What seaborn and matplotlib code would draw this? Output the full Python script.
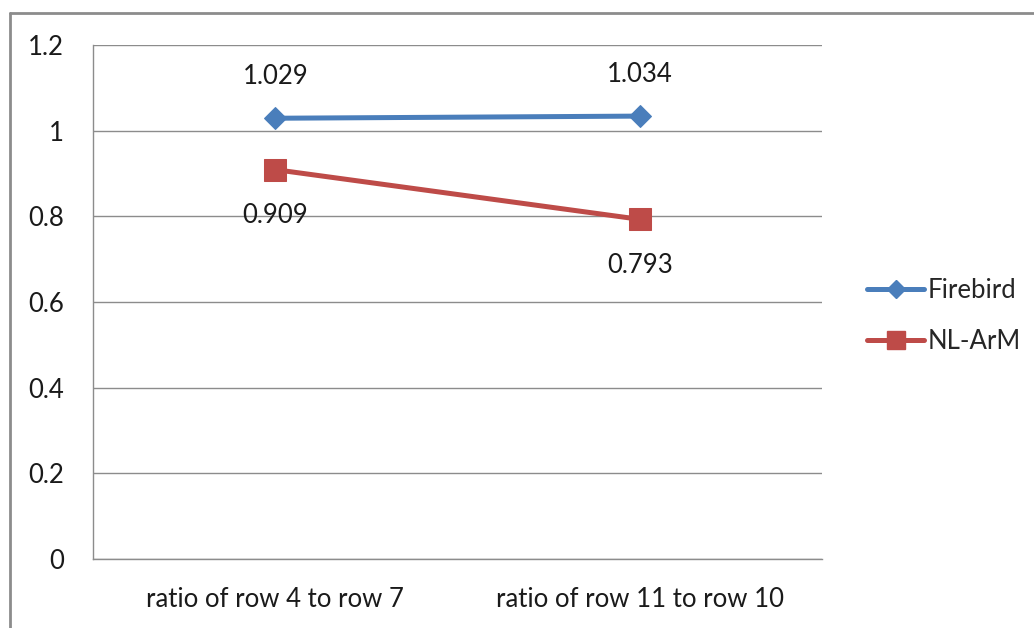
import matplotlib
matplotlib.use("Agg")
import matplotlib.pyplot as plt
import matplotlib.lines as mlines
import seaborn as sns
import pandas as pd

# Ratios per comparison
categories = ["ratio of row 4 to row 7", "ratio of row 11 to row 10"]
firebird = [1.029, 1.034]
nl_arm = [0.909, 0.793]
series_names = ["Firebird", "NL-ArM"]
y_ticks = [0, 0.2, 0.4, 0.6, 0.8, 1.0, 1.2]
y_tick_labels = ["0", "0.2", "0.4", "0.6", "0.8", "1", "1.2"]

sns.set_theme(style="white")
plt.rcParams["font.family"] = ["Lato", "DejaVu Sans"]

BLUE = "#4A7EBB"
RED = "#BE4B48"
GRID = "#8C8C8C"
TEXT = "#1a1a1a"
FS = 18.5

df = pd.DataFrame({
    "category": categories * 2,
    "value": firebird + nl_arm,
    "series": [series_names[0]] * 2 + [series_names[1]] * 2,
})

fig = plt.figure(figsize=(10.34, 6.28), dpi=100)
ax = fig.add_axes([93 / 1034, 1 - 559 / 628, (822 - 93) / 1034, (559 - 45) / 628])

palette = {series_names[0]: BLUE, series_names[1]: RED}
sns.lineplot(data=df, x="category", y="value", hue="series", style="series",
             markers={series_names[0]: "D", series_names[1]: "s"},
             dashes=False, palette=palette, linewidth=3.6, ax=ax,
             legend=False, zorder=3)

# marker sizes per series
for line in ax.lines:
    c = line.get_color()
    if line.get_marker() == "D":
        line.set_markersize(11.5)
    else:
        line.set_markersize(16)
    line.set_markeredgecolor(c)
    line.set_markerfacecolor(c)

# value labels
for i, v in enumerate(firebird):
    ax.annotate(f"{v:.3f}", (i, v), xytext=(0, 30), textcoords="offset points",
                ha="center", va="center", fontsize=FS, color=TEXT)
for i, v in enumerate(nl_arm):
    ax.annotate(f"{v:.3f}", (i, v), xytext=(0, -33), textcoords="offset points",
                ha="center", va="center", fontsize=FS, color=TEXT)

ax.set_xlim(-0.5, 1.5)
ax.set_ylim(0, 1.2)
ax.set_yticks(y_ticks)
ax.set_yticklabels(y_tick_labels, fontsize=FS, color=TEXT)
ax.set_xticks([0, 1])
ax.set_xticklabels(categories, fontsize=FS, color=TEXT)
ax.set_xticks([-0.5, 0.5, 1.5], minor=True)
ax.tick_params(axis="x", which="major", length=0, pad=20)
ax.tick_params(axis="x", which="minor", length=6, width=1, color=GRID, direction="out")
ax.tick_params(axis="y", which="major", length=7, width=1, color=GRID,
               direction="out", pad=14)
ax.set_xlabel("")
ax.set_ylabel("")

ax.grid(axis="y", color=GRID, linewidth=1)
ax.grid(axis="x", visible=False)
ax.set_axisbelow(True)
for side in ["top", "right"]:
    ax.spines[side].set_visible(False)
for side in ["left", "bottom"]:
    ax.spines[side].set_color(GRID)
    ax.spines[side].set_linewidth(1)

# legend
handles = [
    mlines.Line2D([], [], color=BLUE, lw=3.6, marker="D", markersize=9),
    mlines.Line2D([], [], color=RED, lw=3.6, marker="s", markersize=13),
]
fig.legend(handles, series_names, loc="center left",
           bbox_to_anchor=(857 / 1034, 1 - 316 / 628), frameon=False,
           fontsize=FS, handlelength=2.2, handletextpad=0.15,
           labelspacing=1.05, borderaxespad=0)

# chart frame
frame_col = "#8C8C8C"
fig.add_artist(mlines.Line2D([10 / 1034, 10 / 1034], [0, 1 - 13 / 628],
                             transform=fig.transFigure, color=frame_col, lw=2))
fig.add_artist(mlines.Line2D([10 / 1034, 1], [1 - 13 / 628, 1 - 13 / 628],
                             transform=fig.transFigure, color=frame_col, lw=2))

fig.savefig("out.png", dpi=100)
